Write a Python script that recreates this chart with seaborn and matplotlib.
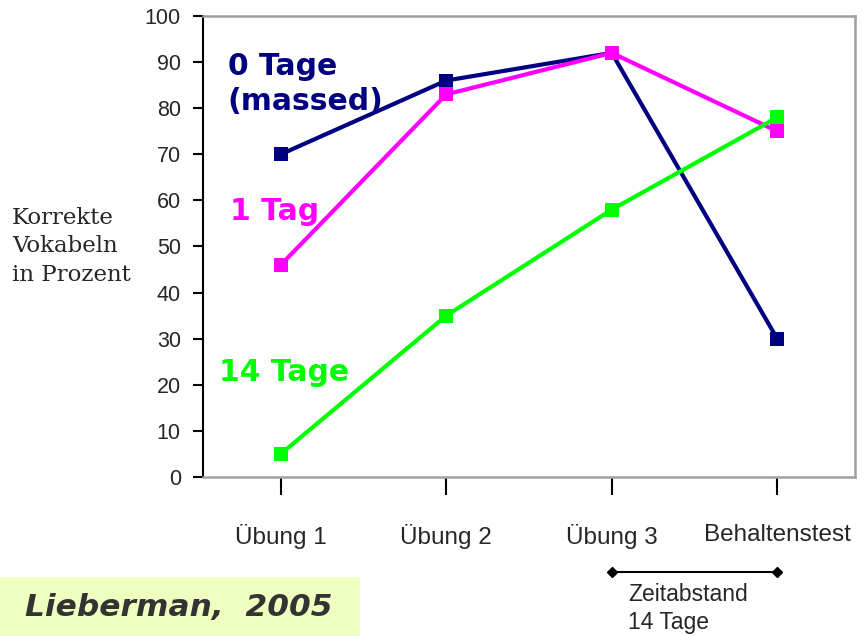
import matplotlib
matplotlib.use("Agg")
import matplotlib.pyplot as plt
import seaborn as sns
import pandas as pd

# Daten
stufen = ['Übung 1', 'Übung 2', 'Übung 3', 'Behaltenstest']
gruppen = ['0 Tage', '1 Tag', '14 Tage']
werte_0tage = [70, 86, 92, 30]
werte_1tag = [46, 83, 92, 75]
werte_14tage = [5, 35, 58, 78]
farben = ['#000080', '#ff00ff', '#00ff00']

df = pd.DataFrame({
    'stufe': list(range(len(stufen))) * 3,
    'prozent': werte_0tage + werte_1tag + werte_14tage,
    'gruppe': [g for g in gruppen for _ in stufen],
})

sns.set_style('white')
plt.rcParams['font.family'] = ['DejaVu Sans']

fig = plt.figure(figsize=(8.65, 6.36), dpi=100)
ax = fig.add_axes([203 / 865, 1 - 477 / 636, (855 - 203) / 865, (477 - 16) / 636])

sns.lineplot(data=df, x='stufe', y='prozent', hue='gruppe', hue_order=gruppen,
             palette=farben, style='gruppe', markers=['s', 's', 's'], dashes=False,
             markersize=10, markeredgewidth=0, linewidth=3, legend=False, ax=ax)

ax.set_xlim(-0.47, 3.47)
ax.set_ylim(0, 100)
ax.set_yticks(range(0, 101, 10))
ax.set_xticks(range(len(stufen)))
ax.set_xticklabels(stufen, family='Liberation Sans', fontsize=17.5)
for lab in ax.get_yticklabels():
    lab.set_family('Liberation Sans')
ax.tick_params(axis='x', bottom=True, direction='out', length=13, width=1.5,
               color='black', pad=21)
ax.tick_params(axis='y', left=True, direction='out', length=7, width=1.5,
               color='black', labelsize=15.5, pad=9)
ax.set_xlabel('')
ax.set_ylabel('Korrekte\nVokabeln\nin Prozent', rotation=0, family='DejaVu Serif',
              fontsize=16.5, ha='left', va='center', linespacing=1.4)
ax.yaxis.set_label_coords(-0.293, 0.5)

for s in ['top', 'right', 'bottom']:
    ax.spines[s].set_color('#a0a0a0')
    ax.spines[s].set_linewidth(1.8)
ax.spines['left'].set_color('black')
ax.spines['left'].set_linewidth(1.5)

# Gruppenbeschriftungen
ax.text(0.038, 0.853, '0 Tage\n(massed)', transform=ax.transAxes, color=farben[0],
        fontsize=21.5, fontweight='bold', va='center', ha='left', linespacing=1.25)
ax.text(0.042, 0.575, '1 Tag', transform=ax.transAxes, color=farben[1],
        fontsize=21.5, fontweight='bold', va='center', ha='left')
ax.text(0.025, 0.226, '14 Tage', transform=ax.transAxes, color=farben[2],
        fontsize=21.5, fontweight='bold', va='center', ha='left')

# Zeitabstand-Klammer
trans = ax.get_xaxis_transform()
ax.plot([2, 3], [-0.205, -0.205], transform=trans, color='black', lw=1.5,
        marker='D', markersize=5, clip_on=False)
ax.text(2.1, -0.23, 'Zeitabstand\n14 Tage', transform=trans, family='Liberation Sans',
        fontsize=16.5, va='top', ha='left', linespacing=1.3)

# Quellenangabe
fig.patches.append(plt.Rectangle((0, 0), 360 / 865, 59 / 636, transform=fig.transFigure,
                                 facecolor='#eeffc0', edgecolor='none'))
fig.text(25 / 865, 29 / 636, 'Lieberman,  2005', fontsize=22.5, fontweight='bold',
         style='italic', color='#333333', va='center', ha='left')

fig.savefig('out.png', dpi=100)
